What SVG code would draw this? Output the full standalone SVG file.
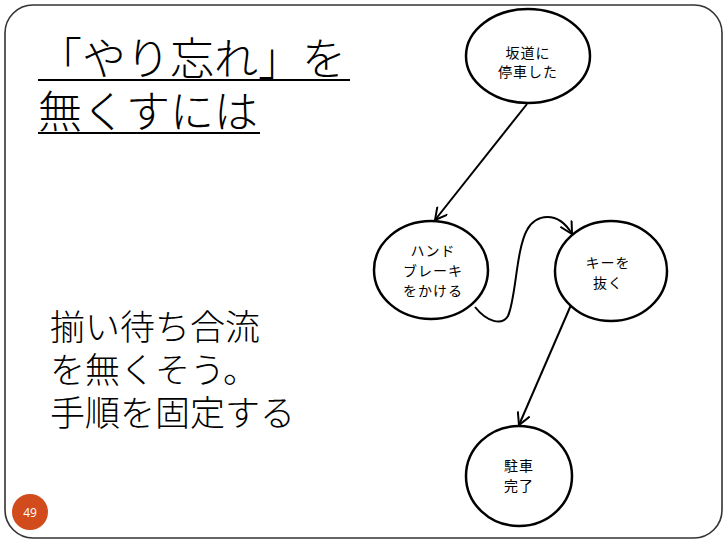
<svg xmlns="http://www.w3.org/2000/svg" width="728" height="546" viewBox="0 0 728 546">
<style>
.jp{font-family:"Liberation Serif","Noto Sans CJK JP",serif;font-weight:300;fill:#000}
.nt{font-family:"Noto Sans CJK JP",sans-serif;font-size:14px;letter-spacing:1px;text-anchor:middle;fill:#000}
.node{fill:#fff;stroke:#000;stroke-width:2.5}
.conn{fill:none;stroke:#000;stroke-width:2;marker-end:url(#arr)}
</style>
<defs>
<marker id="arr" viewBox="-13 -7 15 14" refX="0" refY="0" markerWidth="15" markerHeight="14" markerUnits="userSpaceOnUse" orient="auto">
<path d="M-12,-6.5 L0,0 L-12,6.5" fill="none" stroke="#000" stroke-width="2"/>
</marker>
</defs>
<rect x="0" y="0" width="728" height="546" fill="#fff"/>
<rect x="5" y="5" width="717" height="533" rx="28" ry="28" fill="#fff" stroke="#333" stroke-width="1.6"/>
<g id="title">
<text class="jp" x="38" y="75" font-size="44">「やり忘れ」を</text>
<line x1="38" y1="80" x2="350" y2="80" stroke="#000" stroke-width="2"/>
<text class="jp" x="38" y="128" font-size="44">無くすには</text>
<line x1="38" y1="133" x2="260" y2="133" stroke="#000" stroke-width="2"/>
</g>
<g id="body">
<text class="jp" x="50" y="340" font-size="35">揃い待ち合流</text>
<text class="jp" x="50" y="383" font-size="35">を無くそう。</text>
<text class="jp" x="50" y="426" font-size="35">手順を固定する</text>
</g>
<g id="connectors">
<path class="conn" d="M527,104 L435,220"/>
<path class="conn" d="M475,307 C487,322 502,326 508,316 C516,298 516,250 527,230 C535,214 558,210 572,234"/>
<path class="conn" d="M571,305 L519,425"/>
</g>
<g id="n1">
<ellipse class="node" cx="528" cy="56" rx="62" ry="47"/>
<text class="nt" x="528" y="58">坂道に</text>
<text class="nt" x="528" y="77">停車した</text>
</g>
<g id="n2">
<ellipse class="node" cx="431" cy="270" rx="57" ry="49"/>
<text class="nt" x="433" y="256">ハンド</text>
<text class="nt" x="433" y="276">ブレーキ</text>
<text class="nt" x="433" y="296">をかける</text>
</g>
<g id="n3">
<ellipse class="node" cx="611" cy="271" rx="56" ry="50"/>
<text class="nt" x="608" y="268">キーを</text>
<text class="nt" x="608" y="288">抜く</text>
</g>
<g id="n4">
<ellipse class="node" cx="519" cy="476" rx="53" ry="50"/>
<text class="nt" x="519" y="471" letter-spacing="0">駐車</text>
<text class="nt" x="519" y="491" letter-spacing="0">完了</text>
</g>
<g id="page">
<circle cx="30" cy="512" r="18" fill="#D24B1D"/>
<text x="30" y="516.5" font-family="Open Sans,sans-serif" font-size="12" fill="#fff" text-anchor="middle">49</text>
</g>
</svg>
